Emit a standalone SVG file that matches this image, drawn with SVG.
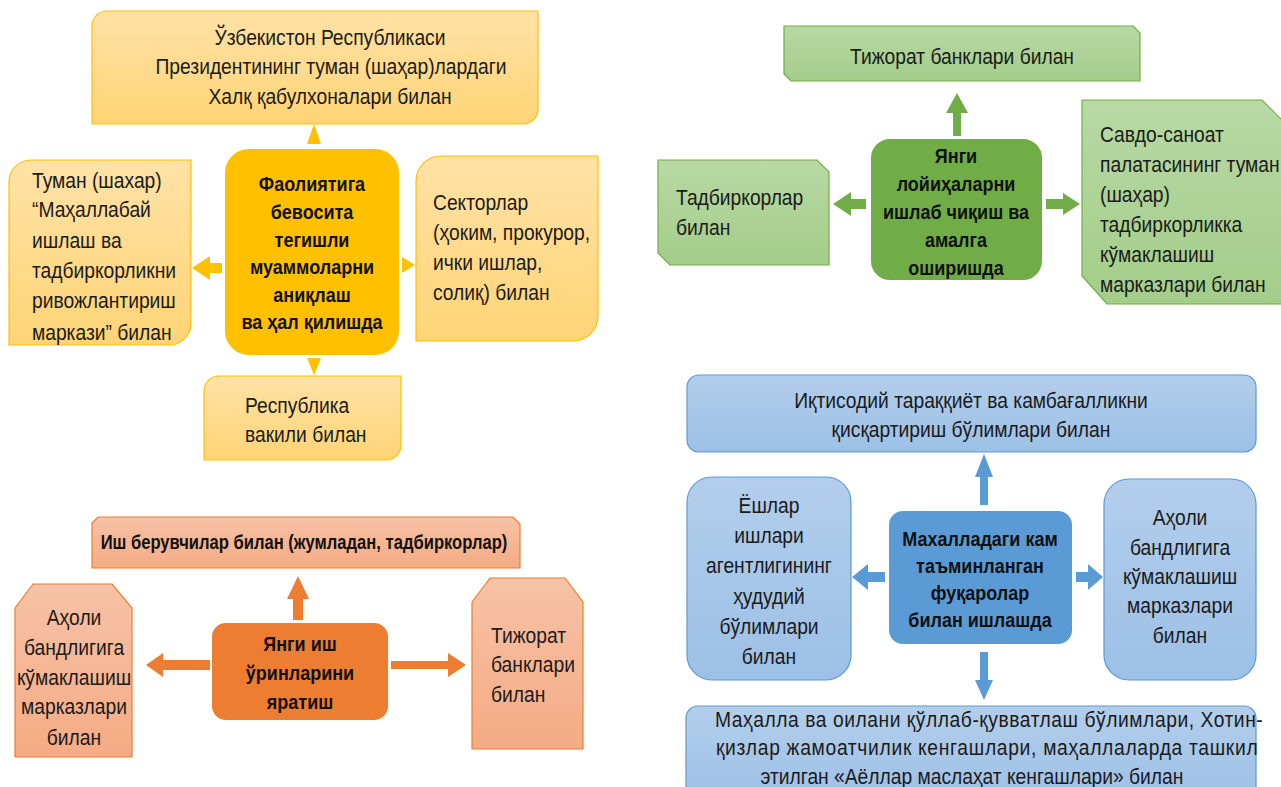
<svg xmlns="http://www.w3.org/2000/svg" width="1281" height="787" viewBox="0 0 1281 787">
<defs>
<linearGradient id="gy" x1="0" y1="0" x2="0" y2="1"><stop offset="0" stop-color="#FFE2A6"/><stop offset="1" stop-color="#FFD476"/></linearGradient>
<linearGradient id="gg" x1="0" y1="0" x2="0" y2="1"><stop offset="0" stop-color="#B8D9A4"/><stop offset="1" stop-color="#A3CD89"/></linearGradient>
<linearGradient id="go" x1="0" y1="0" x2="0" y2="1"><stop offset="0" stop-color="#F7C2A6"/><stop offset="1" stop-color="#F4AB84"/></linearGradient>
<linearGradient id="gb" x1="0" y1="0" x2="0" y2="1"><stop offset="0" stop-color="#B3CEEB"/><stop offset="1" stop-color="#9CC0E6"/></linearGradient>
<style>
text{font-family:'Liberation Sans',Arial,sans-serif;fill:#1a1a1a;font-size:22px}
.b{font-weight:bold;font-size:20px;fill:#111}
.m{text-anchor:middle}
.y{fill:url(#gy);stroke:#FFC000;stroke-width:1.2}
.g{fill:url(#gg);stroke:#70AD47;stroke-width:1.2}
.o{fill:url(#go);stroke:#ED7D31;stroke-width:1.2}
.bl{fill:url(#gb);stroke:#5B9BD5;stroke-width:1.2}
.cy{fill:#FFC000;stroke:#fff;stroke-width:2}
.cg{fill:#70AD47;stroke:#fff;stroke-width:2}
.co{fill:#ED7D31;stroke:#fff;stroke-width:2}
.cb{fill:#5B9BD5;stroke:#fff;stroke-width:2}
.ay{fill:#FFC000}.ag{fill:#70AD47}.ao{fill:#ED7D31}.ab{fill:#5B9BD5}
</style>
</defs>
<rect width="1281" height="787" fill="#fff"/>

<g id="connectors">
<polygon class="ay" points="307,144 321,144 314,124"/>
<polygon class="ay" points="222,263 210,263 210,256 192,268 210,280 210,273 222,273"/>
<polygon class="ay" points="402,257 415,265 402,273"/>
<polygon class="ay" points="307,358 321,358 314,375"/>
<polygon class="ag" points="953,136 953,113 946,113 957,93 968,113 961,113 961,136"/>
<polygon class="ag" points="866,199 851,199 851,192 833,204 851,216 851,209 866,209"/>
<polygon class="ag" points="1046,199 1063,199 1063,193 1080,204 1063,215 1063,209 1046,209"/>
<polygon class="ao" points="293,620 293,599 287,599 298,576 309,599 303,599 303,620"/>
<polygon class="ao" points="210,660 163,660 163,653 146,665 163,677 163,670 210,670"/>
<polygon class="ao" points="391,661 448,661 448,653 466,665 448,677 448,669 391,669"/>
<polygon class="ab" points="980,505 980,477 975,477 984,454 993,477 988,477 988,505"/>
<polygon class="ab" points="885,572 868,572 868,564 852,577 868,590 868,582 885,582"/>
<polygon class="ab" points="1076,572 1088,572 1088,564 1103,577 1088,590 1088,582 1076,582"/>
<polygon class="ab" points="980,652 988,652 988,680 993,680 984,700 975,680 980,680"/>
</g>

<g id="y-top">
<path class="y" d="M92,26 A15,15 0 0 1 107,11 H538 V109 A15,15 0 0 1 523,124 H92 Z"/>
<text class="m" transform="matrix(.875 0 0 1 330 45)">Ўзбекистон Республикаси</text>
<text class="m" transform="matrix(.875 0 0 1 331 74)">Президентининг туман (шаҳар)лардаги</text>
<text class="m" transform="matrix(.875 0 0 1 330 104)">Халқ қабулхоналари билан</text>
</g>
<g id="y-center">
<rect class="cy" x="224" y="148" width="176" height="208" rx="25"/>
<text class="b m" transform="matrix(.9 0 0 1 312 191)">Фаолиятига</text>
<text class="b m" transform="matrix(.9 0 0 1 312 219)">бевосита</text>
<text class="b m" transform="matrix(.9 0 0 1 312 247)">тегишли</text>
<text class="b m" transform="matrix(.9 0 0 1 312 274)">муаммоларни</text>
<text class="b m" transform="matrix(.9 0 0 1 312 302)">аниқлаш</text>
<text class="b m" transform="matrix(.9 0 0 1 312 329)">ва ҳал қилишда</text>
</g>
<g id="y-left">
<path class="y" d="M9,182 A22,22 0 0 1 31,160 H191 V323 A22,22 0 0 1 169,345 H9 Z"/>
<text transform="matrix(.875 0 0 1 32 188)">Туман (шахар)</text>
<text transform="matrix(.875 0 0 1 32 217)">“Маҳаллабай</text>
<text transform="matrix(.875 0 0 1 32 248)">ишлаш ва</text>
<text transform="matrix(.875 0 0 1 32 278)">тадбиркорликни</text>
<text transform="matrix(.875 0 0 1 32 308)">ривожлантириш</text>
<text transform="matrix(.875 0 0 1 32 340)">маркази” билан</text>
</g>
<g id="y-right">
<path class="y" d="M416,181 A25,25 0 0 1 441,156 H598 V316 A25,25 0 0 1 573,341 H416 Z"/>
<text transform="matrix(.875 0 0 1 433 210)">Секторлар</text>
<text transform="matrix(.875 0 0 1 433 240)">(ҳоким, прокурор,</text>
<text transform="matrix(.875 0 0 1 433 270)">ички ишлар,</text>
<text transform="matrix(.875 0 0 1 433 300)">солиқ) билан</text>
</g>
<g id="y-bottom">
<path class="y" d="M204,391 A15,15 0 0 1 219,376 H401 V445 A15,15 0 0 1 386,460 H204 Z"/>
<text transform="matrix(.875 0 0 1 245 413)">Республика</text>
<text transform="matrix(.875 0 0 1 245 442)">вакили билан</text>
</g>

<g id="g-top">
<path class="g" d="M784,26 H1133 L1140,33 V81 H791 L784,74 Z"/>
<text class="m" transform="matrix(.875 0 0 1 962 64)">Тижорат банклари билан</text>
</g>
<g id="g-center">
<rect class="cg" x="870" y="138" width="173" height="143" rx="20"/>
<text class="b m" transform="matrix(.9 0 0 1 956 163)">Янги</text>
<text class="b m" transform="matrix(.9 0 0 1 956 191)">лойиҳаларни</text>
<text class="b m" transform="matrix(.9 0 0 1 956 219)">ишлаб чиқиш ва</text>
<text class="b m" transform="matrix(.9 0 0 1 956 247)">амалга</text>
<text class="b m" transform="matrix(.9 0 0 1 956 275)">оширишда</text>
</g>
<g id="g-left">
<path class="g" d="M658,160 H817 L829,172 V265 H670 L658,253 Z"/>
<text transform="matrix(.875 0 0 1 676 205)">Тадбиркорлар</text>
<text transform="matrix(.875 0 0 1 676 235)">билан</text>
</g>
<g id="g-right">
<path class="g" d="M1082,100 H1262 L1287,125 V304 H1107 L1082,276 Z"/>
<text transform="matrix(.875 0 0 1 1100 142)">Савдо-саноат</text>
<text transform="matrix(.875 0 0 1 1100 172)">палатасининг туман</text>
<text transform="matrix(.875 0 0 1 1100 202)">(шаҳар)</text>
<text transform="matrix(.875 0 0 1 1100 232)">тадбиркорликка</text>
<text transform="matrix(.875 0 0 1 1100 262)">кўмаклашиш</text>
<text transform="matrix(.875 0 0 1 1100 292)">марказлари билан</text>
</g>

<g id="o-top">
<path class="o" d="M98,517 H513 L520,524 V568 H92 V523 Z"/>
<text class="b m" transform="matrix(.83 0 0 1 304 549)">Иш берувчилар билан (жумладан, тадбиркорлар)</text>
</g>
<g id="o-center">
<rect class="co" x="211" y="622" width="178" height="99" rx="15"/>
<text class="b m" transform="matrix(.9 0 0 1 300 651)">Янги иш</text>
<text class="b m" transform="matrix(.9 0 0 1 300 680)">ўринларини</text>
<text class="b m" transform="matrix(.9 0 0 1 300 709)">яратиш</text>
</g>
<g id="o-left">
<path class="o" d="M15,608 L33,584 H112 L132,608 V757 H15 Z"/>
<text class="m" transform="matrix(.875 0 0 1 74 625)">Аҳоли</text>
<text class="m" transform="matrix(.875 0 0 1 74 655)">бандлигига</text>
<text class="m" transform="matrix(.875 0 0 1 74 685)">кўмаклашиш</text>
<text class="m" transform="matrix(.875 0 0 1 74 714)">марказлари</text>
<text class="m" transform="matrix(.875 0 0 1 74 745)">билан</text>
</g>
<g id="o-right">
<path class="o" d="M472,602 L490,578 H565 L583,602 V749 H472 Z"/>
<text transform="matrix(.875 0 0 1 491 643)">Тижорат</text>
<text transform="matrix(.875 0 0 1 491 672)">банклари</text>
<text transform="matrix(.875 0 0 1 491 702)">билан</text>
</g>

<g id="b-top">
<rect class="bl" x="687" y="375" width="569" height="77" rx="12"/>
<text class="m" transform="matrix(.875 0 0 1 971 408)">Иқтисодий тараққиёт ва камбағалликни</text>
<text class="m" transform="matrix(.875 0 0 1 971 437)">қисқартириш бўлимлари билан</text>
</g>
<g id="b-left">
<rect class="bl" x="687" y="477" width="164" height="203" rx="25"/>
<text class="m" transform="matrix(.875 0 0 1 769 513)">Ёшлар</text>
<text class="m" transform="matrix(.875 0 0 1 769 543)">ишлари</text>
<text class="m" transform="matrix(.875 0 0 1 769 573)">агентлигининг</text>
<text class="m" transform="matrix(.875 0 0 1 769 604)">ҳудудий</text>
<text class="m" transform="matrix(.875 0 0 1 769 634)">бўлимлари</text>
<text class="m" transform="matrix(.875 0 0 1 769 664)">билан</text>
</g>
<g id="b-center">
<rect class="cb" x="888" y="510" width="185" height="135" rx="15"/>
<text class="b m" transform="matrix(.9 0 0 1 980 546)">Махалладаги кам</text>
<text class="b m" transform="matrix(.9 0 0 1 980 573)">таъминланган</text>
<text class="b m" transform="matrix(.9 0 0 1 980 600)">фуқаролар</text>
<text class="b m" transform="matrix(.9 0 0 1 980 627)">билан ишлашда</text>
</g>
<g id="b-right">
<rect class="bl" x="1104" y="479" width="152" height="201" rx="25"/>
<text class="m" transform="matrix(.875 0 0 1 1180 525)">Аҳоли</text>
<text class="m" transform="matrix(.875 0 0 1 1180 555)">бандлигига</text>
<text class="m" transform="matrix(.875 0 0 1 1180 584)">кўмаклашиш</text>
<text class="m" transform="matrix(.875 0 0 1 1180 613)">марказлари</text>
<text class="m" transform="matrix(.875 0 0 1 1180 643)">билан</text>
</g>
<g id="b-bottom">
<rect class="bl" x="686" y="706" width="570" height="100" rx="12"/>
<text transform="matrix(.875 0 0 1 715 727)" textLength="626" lengthAdjust="spacing">Маҳалла ва оилани қўллаб-қувватлаш бўлимлари, Хотин-</text>
<text transform="matrix(.875 0 0 1 716 755)" textLength="619" lengthAdjust="spacing">қизлар жамоатчилик кенгашлари, маҳаллаларда ташкил</text>
<text class="m" transform="matrix(.875 0 0 1 972 784)">этилган «Аёллар маслаҳат кенгашлари» билан</text>
</g>
</svg>
